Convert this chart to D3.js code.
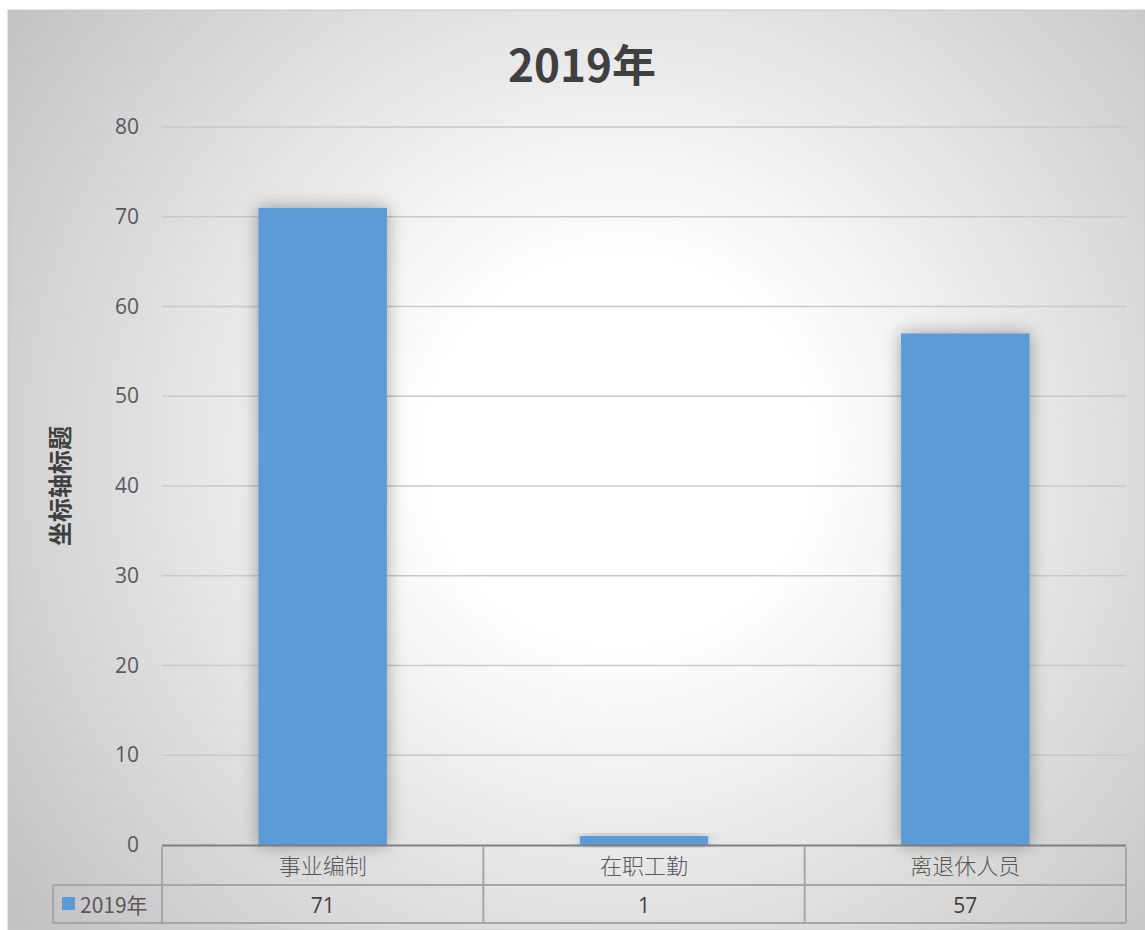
<!DOCTYPE html>
<html>
<head>
<meta charset="utf-8">
<script src="https://cdn.jsdelivr.net/npm/d3@7"></script>
<style>
  body { margin: 0; background: #fff; }
  svg text { font-family: "Noto Sans CJK SC", "Noto Sans", sans-serif; }
</style>
</head>
<body>
<div id="chart"></div>
<script>
const categories = ["事业编制", "在职工勤", "离退休人员"];
const values = [71, 1, 57];
const seriesName = "2019年";
const yTicks = [0, 10, 20, 30, 40, 50, 60, 70, 80];

const W = 1145, H = 930;
const margin = {left: 162, right: 19, top: 127, bottom: 85};

const svg = d3.select("#chart").append("svg")
    .attr("width", W)
    .attr("height", H);

const defs = svg.append("defs");
const grad = defs.append("radialGradient")
    .attr("id", "bg")
    .attr("gradientUnits", "userSpaceOnUse")
    .attr("cx", 620).attr("cy", 450).attr("r", 760);
grad.append("stop").attr("offset", "0.25").attr("stop-color", "#ffffff");
grad.append("stop").attr("offset", "1").attr("stop-color", "#c2c2c2");

const shadow = defs.append("filter").attr("id", "shadow")
    .attr("x", "-30%").attr("y", "-30%").attr("width", "160%").attr("height", "160%");
shadow.append("feGaussianBlur").attr("in", "SourceAlpha").attr("stdDeviation", 9).attr("result", "b");
shadow.append("feComponentTransfer").attr("in", "b").attr("result", "s")
  .append("feFuncA").attr("type", "linear").attr("slope", 0.35);
const merge = shadow.append("feMerge");
merge.append("feMergeNode").attr("in", "s");
merge.append("feMergeNode").attr("in", "SourceGraphic");

// chart area
svg.append("rect")
    .attr("x", 8).attr("y", 10)
    .attr("width", W - 8).attr("height", H - 10)
    .attr("fill", "url(#bg)")
    .attr("stroke", "#c8c8c8");

const x = d3.scaleBand()
    .domain(categories)
    .range([margin.left, W - margin.right])
    .paddingInner(0.6)
    .paddingOuter(0.3);

const y = d3.scaleLinear()
    .domain([0, 80])
    .range([H - margin.bottom, margin.top]);

// gridlines
svg.append("g")
  .selectAll("line")
  .data(yTicks.filter(d => d > 0))
  .join("line")
    .attr("x1", margin.left).attr("x2", W - margin.right)
    .attr("y1", d => y(d)).attr("y2", d => y(d))
    .attr("stroke", "#c9c9c9")
    .attr("stroke-width", 1.3);

// y axis labels
const yAxis = svg.append("g")
    .attr("transform", `translate(${margin.left},0)`)
    .call(d3.axisLeft(y).tickValues(yTicks).tickSize(0).tickPadding(23));
yAxis.select(".domain").remove();
yAxis.selectAll("text")
    .attr("fill", "#595959")
    .style("font-size", "21px")
    .style("font-family", "'Open Sans', 'Noto Sans', sans-serif");

// bars
svg.append("g")
  .selectAll("rect")
  .data(values)
  .join("rect")
    .attr("x", (d, i) => x(categories[i]))
    .attr("y", d => y(d))
    .attr("width", x.bandwidth())
    .attr("height", d => y(0) - y(d))
    .attr("fill", "#5b9bd5")
    .attr("filter", "url(#shadow)");

// baseline
svg.append("line")
    .attr("x1", margin.left).attr("x2", W - margin.right)
    .attr("y1", y(0) + 0.5).attr("y2", y(0) + 0.5)
    .attr("stroke", "#7f7f7f").attr("stroke-width", 2);

// data table
const row1 = y(0) + 2, row2 = row1 + 38, row3 = row2 + 38;
const table = svg.append("g");
const lineCol = "#a6a6a6";
const cellEdges = [margin.left].concat(categories.map(c => x(c) + x.bandwidth() / 2 + x.step() / 2));

table.selectAll("line.v")
  .data(cellEdges)
  .join("line")
    .attr("x1", d => d).attr("x2", d => d)
    .attr("y1", row1).attr("y2", row3)
    .attr("stroke", lineCol).attr("stroke-width", 2);
table.append("line")
    .attr("x1", 53).attr("x2", 53).attr("y1", row2).attr("y2", row3)
    .attr("stroke", lineCol).attr("stroke-width", 2);
table.append("line")
    .attr("x1", 53).attr("x2", W - margin.right).attr("y1", row2).attr("y2", row2)
    .attr("stroke", lineCol).attr("stroke-width", 2);
table.append("line")
    .attr("x1", 53).attr("x2", W - margin.right).attr("y1", row3).attr("y2", row3)
    .attr("stroke", lineCol).attr("stroke-width", 2);

table.selectAll("text.cat")
  .data(categories)
  .join("text")
    .attr("x", d => x(d) + x.bandwidth() / 2)
    .attr("y", row1 + 27)
    .attr("text-anchor", "middle")
    .attr("fill", "#595959")
    .style("font-size", "22px")
    .style("font-weight", 300)
    .text(d => d);

table.selectAll("text.val")
  .data(values)
  .join("text")
    .attr("x", (d, i) => x(categories[i]) + x.bandwidth() / 2)
    .attr("y", row2 + 28)
    .attr("text-anchor", "middle")
    .attr("fill", "#404040")
    .style("font-size", "21px")
    .style("font-family", "'Open Sans', 'Noto Sans', sans-serif")
    .text(d => d);

table.append("rect")
    .attr("x", 62).attr("y", row2 + 12)
    .attr("width", 13).attr("height", 13)
    .attr("fill", "#5b9bd5");
table.append("text")
    .attr("x", 80).attr("y", row2 + 28)
    .attr("fill", "#595959")
    .style("font-size", "21px")
    .text(seriesName);

// title
svg.append("text")
    .attr("x", 582)
    .attr("y", 82)
    .attr("text-anchor", "middle")
    .attr("fill", "#404040")
    .style("font-size", "44px")
    .style("font-weight", "bold")
    .text(seriesName);

// y axis title
svg.append("text")
    .attr("transform", `translate(69, ${y(40)}) rotate(-90)`)
    .attr("text-anchor", "middle")
    .attr("fill", "#404040")
    .style("font-size", "24px")
    .style("font-weight", "bold")
    .text("坐标轴标题");
</script>
</body>
</html>
